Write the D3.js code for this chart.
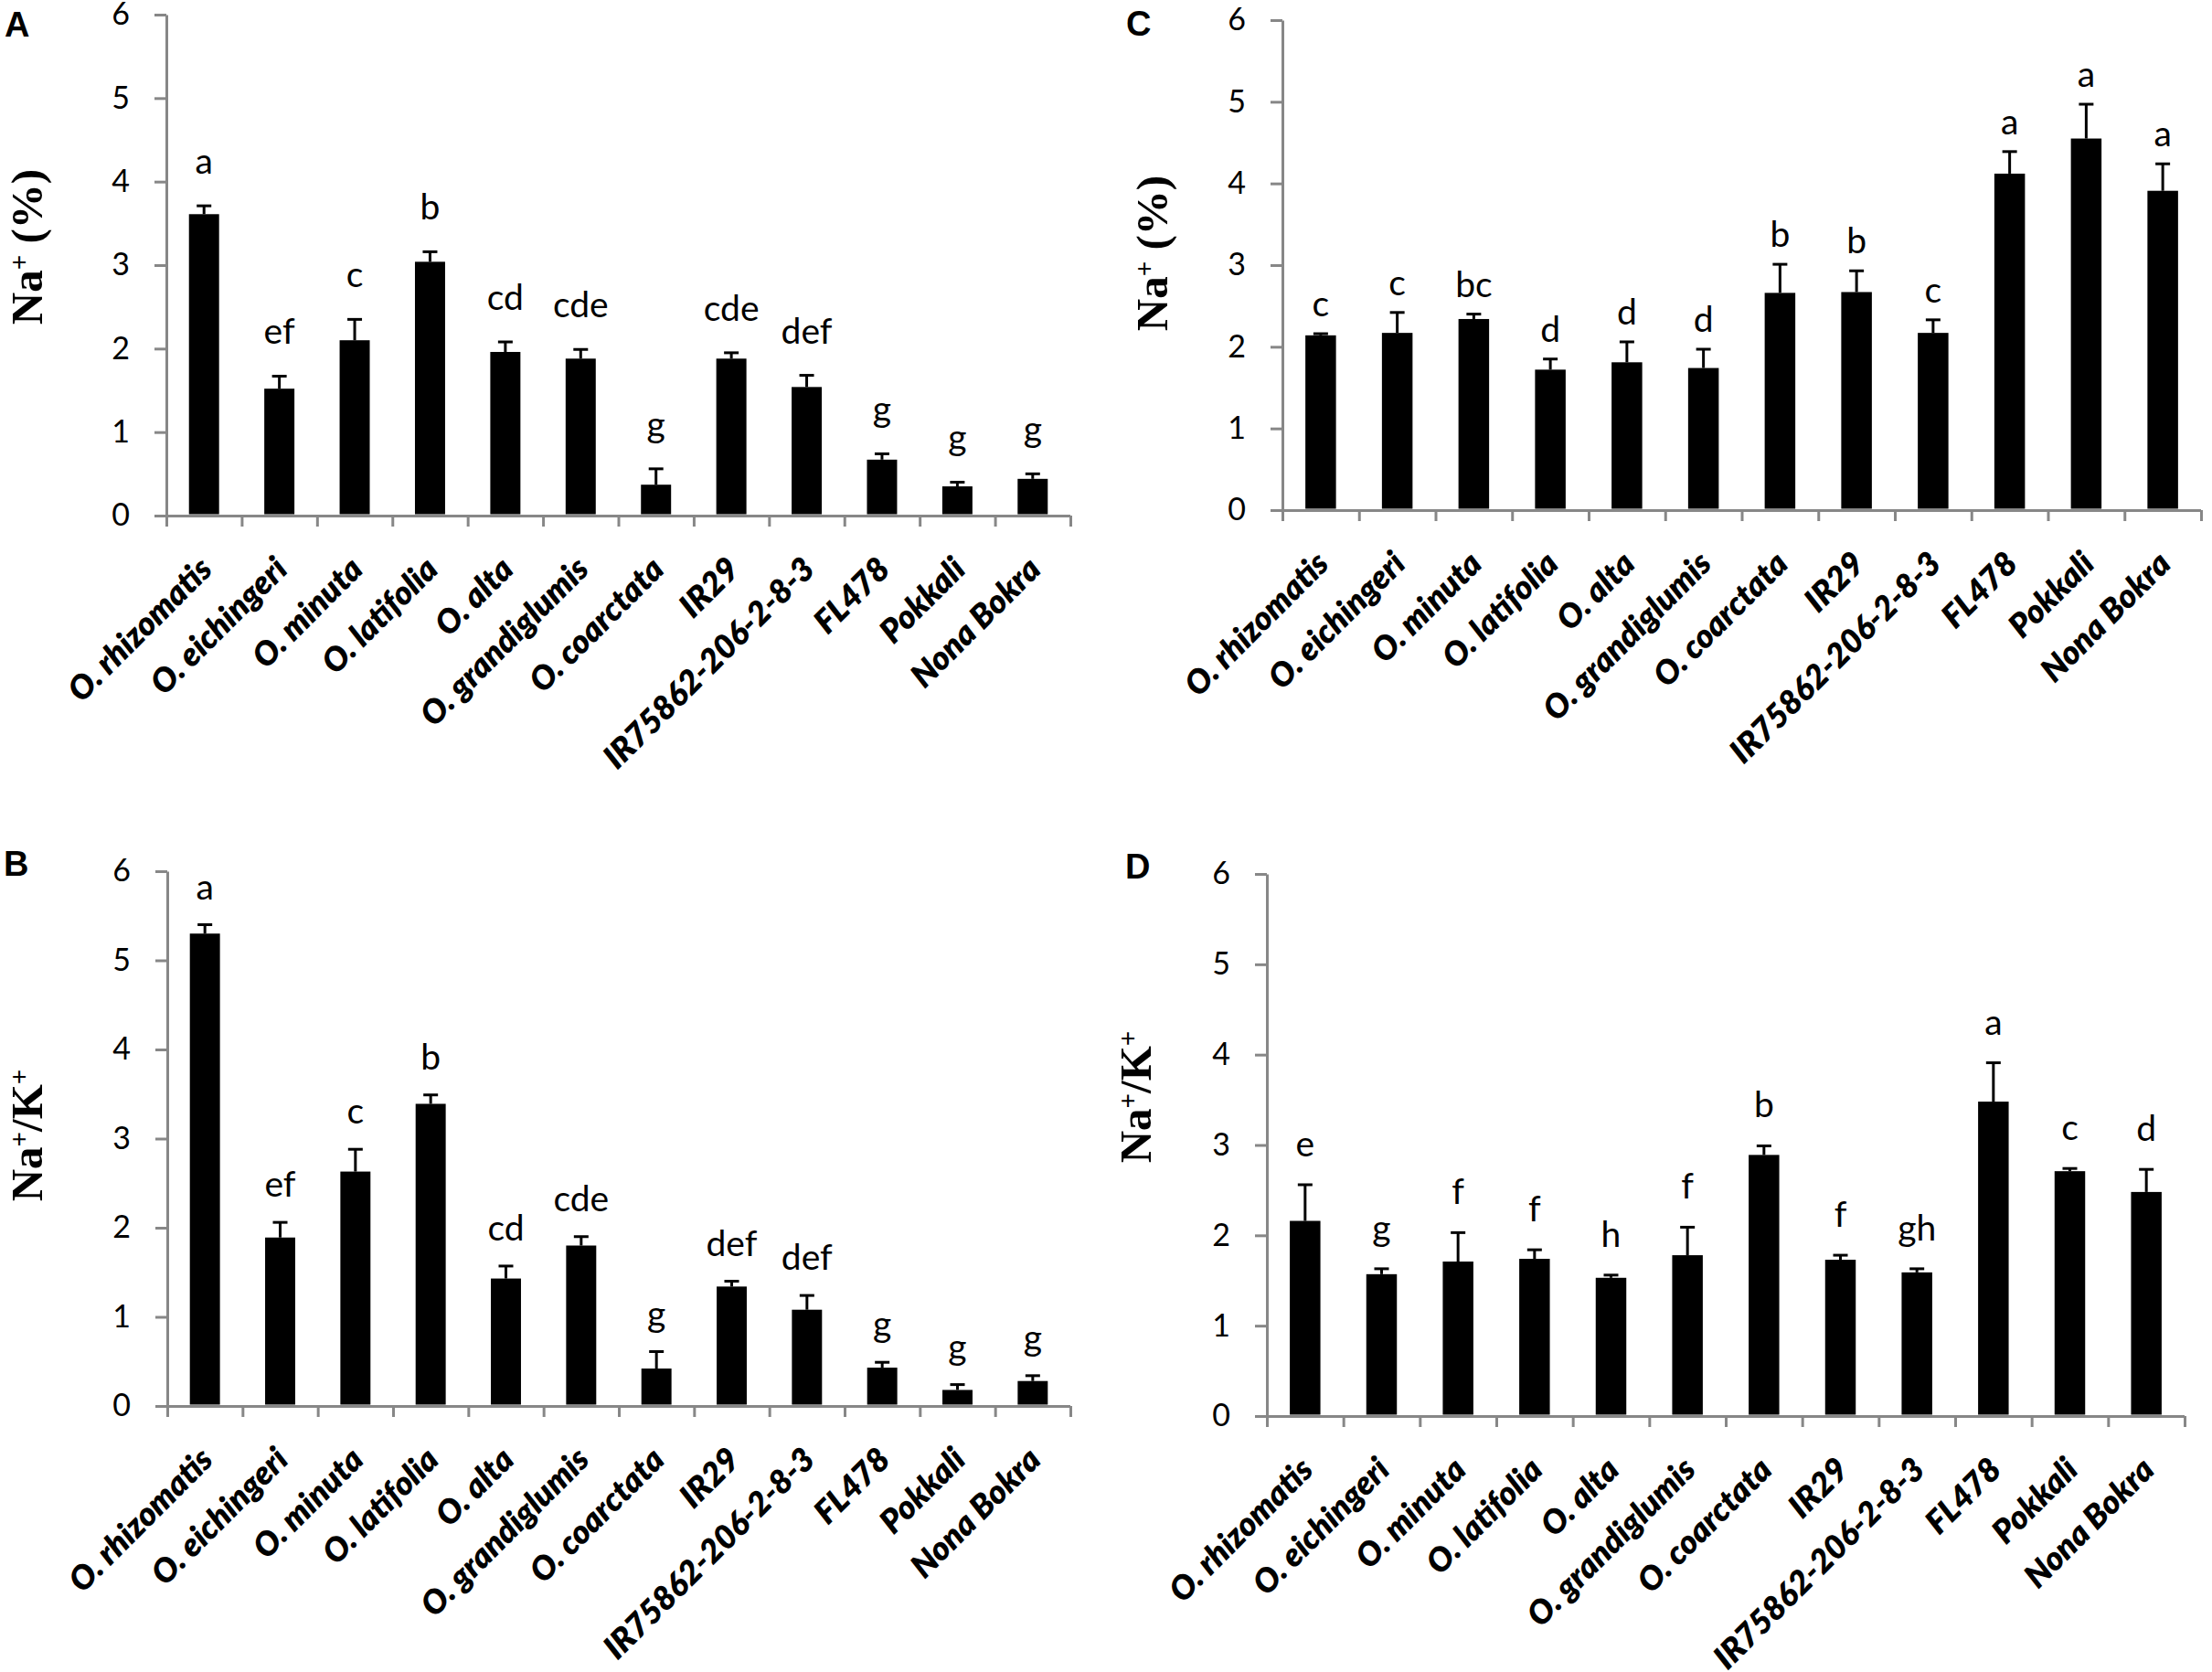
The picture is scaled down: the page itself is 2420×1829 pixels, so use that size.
<!DOCTYPE html>
<html>
<head>
<meta charset="utf-8">
<script src="https://cdn.jsdelivr.net/npm/d3@7/dist/d3.min.js"></script>
<style>
  html, body { margin: 0; padding: 0; background: #ffffff; }
  svg { display: block; }
</style>
</head>
<body>
<svg id="chart" width="2420" height="1829"></svg>
<script>
// ---------------- DATA ----------------
const categories = ["O. rhizomatis", "O. eichingeri", "O. minuta", "O. latifolia", "O. alta",
  "O. grandiglumis", "O. coarctata", "IR29", "IR75862-206-2-8-3", "FL478", "Pokkali", "Nona Bokra"];
const yTicks = [0, 1, 2, 3, 4, 5, 6];

// Panel A : Na+ (%)
const valuesA  = [3.61, 1.52, 2.10, 3.04, 1.96, 1.88, 0.37, 1.88, 1.54, 0.67, 0.35, 0.44];
const errorsA  = [0.10, 0.15, 0.25, 0.12, 0.12, 0.11, 0.19, 0.07, 0.14, 0.07, 0.05, 0.06];
const lettersA = ["a", "ef", "c", "b", "cd", "cde", "g", "cde", "def", "g", "g", "g"];

// Panel B : Na+/K+
const valuesB  = [5.30, 1.89, 2.63, 3.39, 1.43, 1.80, 0.42, 1.34, 1.08, 0.43, 0.18, 0.28];
const errorsB  = [0.10, 0.17, 0.25, 0.10, 0.14, 0.10, 0.19, 0.06, 0.16, 0.06, 0.06, 0.06];
const lettersB = ["a", "ef", "c", "b", "cd", "cde", "g", "def", "def", "g", "g", "g"];

// Panel C : Na+ (%)
const valuesC  = [2.14, 2.17, 2.34, 1.72, 1.81, 1.74, 2.66, 2.67, 2.17, 4.12, 4.55, 3.91];
const errorsC  = [0.02, 0.25, 0.06, 0.13, 0.25, 0.23, 0.35, 0.26, 0.16, 0.27, 0.42, 0.33];
const lettersC = ["c", "c", "bc", "d", "d", "d", "b", "b", "c", "a", "a", "a"];

// Panel D : Na+/K+
const valuesD  = [2.16, 1.57, 1.71, 1.74, 1.53, 1.78, 2.89, 1.73, 1.59, 3.48, 2.71, 2.48];
const errorsD  = [0.40, 0.06, 0.32, 0.10, 0.03, 0.31, 0.10, 0.05, 0.04, 0.43, 0.03, 0.25];
const lettersD = ["e", "g", "f", "f", "h", "f", "b", "f", "gh", "a", "c", "d"];

// ---------------- LAYOUT ----------------
const panels = [
  { tag: "A", values: valuesA, errors: errorsA, letters: lettersA, title: "pct",
    x0: 182, x1: 1171, yTop: 16, yZero: 564, tagX: 5, tagY: 40, titleX: 46, titleY: 270, gap: 35 },
  { tag: "B", values: valuesB, errors: errorsB, letters: lettersB, title: "ratio",
    x0: 183, x1: 1171, yTop: 953, yZero: 1538, tagX: 4, tagY: 958, titleX: 46, titleY: 1242, gap: 28 },
  { tag: "C", values: valuesC, errors: errorsC, letters: lettersC, title: "pct",
    x0: 1403, x1: 2408, yTop: 22, yZero: 558, tagX: 1232, tagY: 39, titleX: 1277, titleY: 277, gap: 19 },
  { tag: "D", values: valuesD, errors: errorsD, letters: lettersD, title: "ratio",
    x0: 1386, x1: 2390, yTop: 956, yZero: 1549, tagX: 1231, tagY: 961, titleX: 1259, titleY: 1200, gap: 31 }
];

const AXIS_COLOR = "#878787";
const svg = d3.select("#chart");

panels.forEach(p => {
  const g = svg.append("g");
  const y = d3.scaleLinear().domain([0, 6]).range([p.yZero, p.yTop]);
  const x = d3.scaleBand().domain(categories).range([p.x0, p.x1])
    .paddingInner(0.6).paddingOuter(0.3);
  const xi = d3.scaleLinear().domain([0, categories.length]).range([p.x0, p.x1]);

  // Y axis
  const yAxis = g.append("g")
    .attr("transform", `translate(${p.x0},0)`)
    .call(d3.axisLeft(y).tickValues(yTicks).tickFormat(d3.format("d"))
      .tickSize(13).tickSizeOuter(0).tickPadding(27));
  yAxis.select(".domain").attr("stroke", AXIS_COLOR).attr("stroke-width", 3);
  yAxis.selectAll(".tick line").attr("stroke", AXIS_COLOR).attr("stroke-width", 3);
  yAxis.selectAll(".tick text")
    .attr("font-family", "Lato, 'Open Sans', sans-serif")
    .attr("font-size", 34).attr("fill", "#000");

  // X axis (category boundary ticks)
  const xAxis = g.append("g")
    .attr("transform", `translate(0,${p.yZero})`)
    .call(d3.axisBottom(xi).tickValues(d3.range(0, categories.length + 1))
      .tickFormat("").tickSize(12).tickSizeOuter(0));
  xAxis.select(".domain").attr("stroke", AXIS_COLOR).attr("stroke-width", 3)
    .attr("d", `M${p.x0 - 13},0.5H${p.x1}`);
  xAxis.selectAll(".tick line").attr("stroke", AXIS_COLOR).attr("stroke-width", 3);

  // Bars
  g.selectAll("rect.bar").data(p.values).join("rect")
    .attr("class", "bar")
    .attr("x", (d, i) => x(categories[i]))
    .attr("width", x.bandwidth())
    .attr("y", d => y(d))
    .attr("height", d => y(0) - y(d) - 1.5)
    .attr("fill", "#000");

  // Error bars (upper)
  const eb = g.selectAll("g.err").data(p.values).join("g").attr("class", "err");
  eb.append("line")
    .attr("x1", (d, i) => x(categories[i]) + x.bandwidth() / 2)
    .attr("x2", (d, i) => x(categories[i]) + x.bandwidth() / 2)
    .attr("y1", d => y(d))
    .attr("y2", (d, i) => y(d + p.errors[i]))
    .attr("stroke", "#000").attr("stroke-width", 3);
  eb.append("line")
    .attr("x1", (d, i) => x(categories[i]) + x.bandwidth() / 2 - 8)
    .attr("x2", (d, i) => x(categories[i]) + x.bandwidth() / 2 + 8)
    .attr("y1", (d, i) => y(d + p.errors[i]))
    .attr("y2", (d, i) => y(d + p.errors[i]))
    .attr("stroke", "#000").attr("stroke-width", 3);

  // Significance letters
  g.selectAll("text.sig").data(p.letters).join("text")
    .attr("class", "sig")
    .attr("x", (d, i) => x(categories[i]) + x.bandwidth() / 2)
    .attr("y", (d, i) => y(p.values[i] + p.errors[i]) - p.gap)
    .attr("text-anchor", "middle")
    .attr("font-family", "Lato, 'Open Sans', sans-serif")
    .attr("font-size", 39).attr("fill", "#000")
    .text(d => d);

  // Category labels (rotated)
  g.selectAll("text.cat").data(categories).join("text")
    .attr("class", "cat")
    .attr("transform", d => `translate(${x(d) + x.bandwidth() / 2 + 2},${p.yZero + 52}) rotate(-45)`)
    .attr("dy", "0.35em")
    .attr("text-anchor", "end")
    .attr("font-family", "Lato, 'Open Sans', sans-serif")
    .attr("font-weight", 800).attr("font-style", "italic")
    .attr("font-size", 36).attr("fill", "#000")
    .text(d => d);

  // Y title
  const t = g.append("text")
    .attr("transform", `translate(${p.titleX},${p.titleY}) rotate(-90)`)
    .attr("text-anchor", "middle")
    .attr("font-family", "'Liberation Serif', 'Times New Roman', serif")
    .attr("font-weight", "bold").attr("font-size", 49).attr("fill", "#000");
  t.append("tspan").text("Na");
  t.append("tspan").attr("font-size", 29).attr("dy", -15).text("+");
  if (p.title === "pct") {
    t.append("tspan").attr("dy", 15).text(" (%)");
  } else {
    t.append("tspan").attr("dy", 15).text("/K");
    t.append("tspan").attr("font-size", 29).attr("dy", -15).text("+");
  }

  // Panel tag
  g.append("text")
    .attr("x", p.tagX).attr("y", p.tagY)
    .attr("font-family", "'Liberation Sans', Arial, sans-serif")
    .attr("font-weight", "bold").attr("font-size", 38).attr("fill", "#000")
    .text(p.tag);
});
</script>
</body>
</html>
